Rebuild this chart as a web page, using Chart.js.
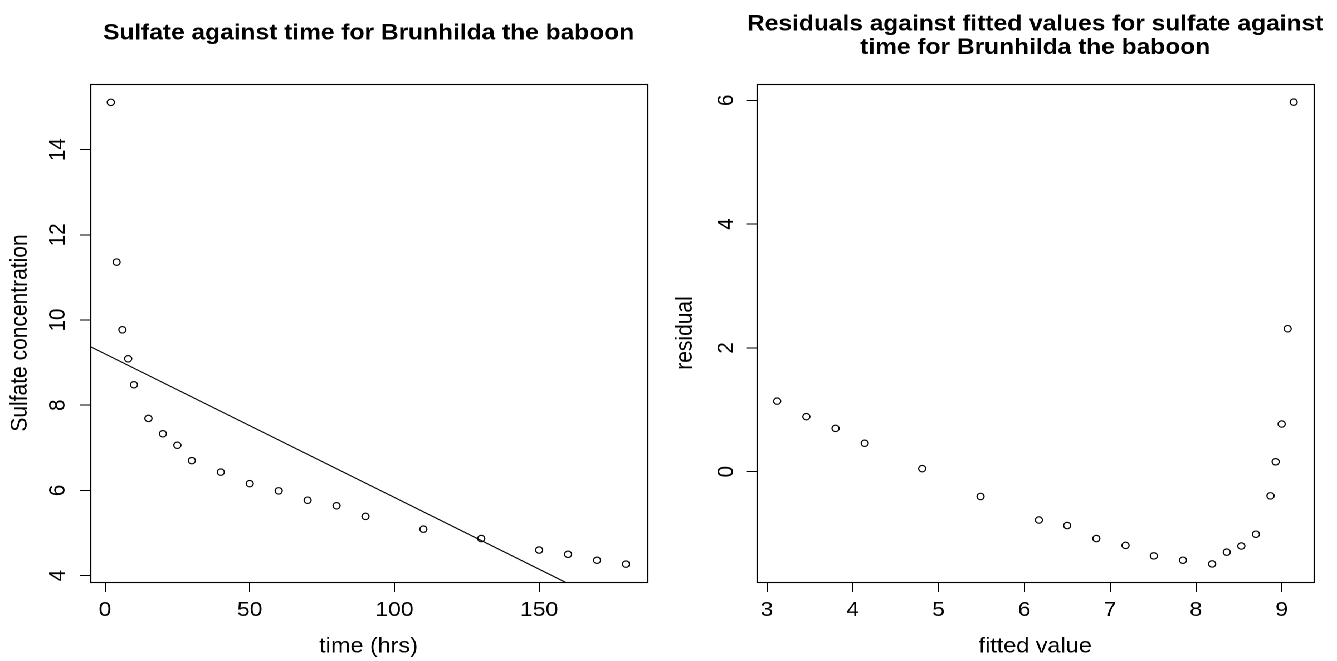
<!DOCTYPE html>
<html>
<head>
<meta charset="utf-8">
<script src="https://cdn.jsdelivr.net/npm/chart.js@4"></script>
<style>
    body { margin: 0; background: #fff; overflow: hidden; }
    /* the reference is a little wider than tall in its glyphs, so the
       whole figure is drawn 1200 wide and stretched to the window */
    #wrap {
        position: relative;
        width: 1200px;
        height: 661px;
        transform: scaleX(1.114167);
        transform-origin: 0 0;
    }
    #wrap canvas { position: absolute; top: 0; }
    #left { left: 0; }
    #right { left: 600px; }
</style>
</head>
<body>
<div id="wrap">
    <canvas id="left" width="600" height="661"></canvas>
    <canvas id="right" width="600" height="661"></canvas>
</div>
<script>
    // sulfate data for Brunhilda
    const timeHrs = [2, 4, 6, 8, 10, 15, 20, 25, 30, 40, 50, 60, 70, 80, 90, 110, 130, 150, 160, 170, 180];
    const sulfate = [15.11, 11.36, 9.77, 9.09, 8.48, 7.69, 7.33, 7.06, 6.70, 6.43, 6.16, 5.99, 5.77, 5.64, 5.39, 5.09, 4.87, 4.60, 4.50, 4.36, 4.27];

    // straight line fit shown on the left panel
    const fitIntercept = 9.205;
    const fitSlope = -0.0337;

    // residual plot
    const fittedValue = [9.14, 9.07, 9.00, 8.93, 8.87, 8.70, 8.53, 8.36, 8.19, 7.85, 7.51, 7.18, 6.84, 6.50, 6.17, 5.49, 4.81, 4.14, 3.80, 3.46, 3.12];
    const residual = [5.97, 2.31, 0.77, 0.16, -0.39, -1.01, -1.20, -1.30, -1.49, -1.43, -1.36, -1.19, -1.08, -0.87, -0.78, -0.40, 0.05, 0.46, 0.70, 0.89, 1.14];

    // tick labels
    const timeTicks = [0, 50, 100, 150];
    const sulfateTicks = [4, 6, 8, 10, 12, 14];
    const fittedTicks = [3, 4, 5, 6, 7, 8, 9];
    const residualTicks = [0, 2, 4, 6];

    const FONT = "'Liberation Sans', Arial, Helvetica, sans-serif";

    // box round the plot region and the bold main title, R style
    const framePlugin = {
        id: 'frame',
        afterDraw(chart, args, opts) {
            const { ctx, chartArea: a } = chart;
            ctx.save();
            ctx.strokeStyle = '#000';
            ctx.lineWidth = 1.1;
            const l = Math.round(a.left) + 0.5, t = Math.round(a.top) + 0.5;
            const r = Math.round(a.right) + 0.5, b = Math.round(a.bottom) + 0.5;
            ctx.strokeRect(l, t, r - l, b - t);
            ctx.fillStyle = '#000';
            ctx.font = 'bold 22px ' + FONT;
            ctx.textAlign = 'center';
            ctx.textBaseline = 'alphabetic';
            const cx = (a.left + a.right) / 2;
            opts.lines.forEach((line, i) => ctx.fillText(line, cx, opts.baselines[i]));
            ctx.restore();
        }
    };

    function fixedTicks(values) {
        return (scale) => { scale.ticks = values.map(v => ({ value: v })); };
    }

    function makeChart(id, cfg) {
        const ctx = document.getElementById(id).getContext('2d');
        return new Chart(ctx, {
            type: 'scatter',
            data: { datasets: cfg.datasets },
            options: {
                responsive: false,
                animation: false,
                devicePixelRatio: 2,
                layout: { padding: { top: 84, right: cfg.padRight, bottom: 0, left: 0 } },
                plugins: {
                    legend: { display: false },
                    tooltip: { enabled: false },
                    frame: { lines: cfg.title, baselines: cfg.titleY }
                },
                scales: {
                    x: {
                        type: 'linear',
                        min: cfg.xRange[0],
                        max: cfg.xRange[1],
                        afterBuildTicks: fixedTicks(cfg.xTicks),
                        afterFit: (s) => { s.height = 79; },
                        border: { display: false },
                        grid: { drawOnChartArea: false, tickLength: 10, color: '#000', lineWidth: 1 },
                        ticks: {
                            autoSkip: false, maxRotation: 0, padding: 6, color: '#000',
                            font: { family: FONT, size: 20.5 },
                            callback: (v) => String(v)
                        },
                        title: {
                            display: true, text: cfg.xTitle, color: '#000',
                            font: { family: FONT, size: 21 },
                            padding: { top: 0, bottom: 1.5 }
                        }
                    },
                    y: {
                        type: 'linear',
                        min: cfg.yRange[0],
                        max: cfg.yRange[1],
                        afterBuildTicks: fixedTicks(cfg.yTicks),
                        afterFit: (s) => { s.width = cfg.yWidth; },
                        border: { display: false },
                        grid: { drawOnChartArea: false, tickLength: 9, color: '#000', lineWidth: 1 },
                        ticks: {
                            autoSkip: false, minRotation: 90, maxRotation: 90,
                            crossAlign: 'center', padding: cfg.yTickPad, color: '#000',
                            font: { family: FONT, size: 20.5 },
                            callback: (v) => String(v)
                        },
                        title: {
                            display: true, text: cfg.yTitle, color: '#000',
                            font: { family: FONT, size: 21 },
                            padding: { top: cfg.yTitlePad, bottom: 0 }
                        }
                    }
                }
            },
            plugins: [framePlugin]
        });
    }

    const circles = {
        pointStyle: 'circle',
        pointRadius: 3.2,
        pointBorderWidth: 1.1,
        pointBorderColor: '#000',
        pointBackgroundColor: 'rgba(0,0,0,0)',
        showLine: false
    };

    const leftX = [-5.18, 187.3];
    makeChart('left', {
        title: ['Sulfate against time for Brunhilda the baboon'],
        titleY: [39.5],
        xTitle: 'time (hrs)',
        yTitle: 'Sulfate concentration',
        xRange: leftX,
        yRange: [3.85, 15.54],
        xTicks: timeTicks,
        yTicks: sulfateTicks,
        yWidth: 80.8,
        padRight: 19.2,
        yTickPad: 8.3,
        yTitlePad: 5.5,
        datasets: [
            Object.assign({
                data: timeHrs.map((t, i) => ({ x: t, y: sulfate[i] }))
            }, circles),
            {
                data: leftX.map(t => ({ x: t, y: fitIntercept + fitSlope * t })),
                showLine: true,
                pointRadius: 0,
                borderColor: '#000',
                borderWidth: 1.1,
                tension: 0,
                clip: 0
            }
        ]
    });

    makeChart('right', {
        title: ['Residuals against fitted values for sulfate against', 'time for Brunhilda the baboon'],
        titleY: [30.5, 54],
        xTitle: 'fitted value',
        yTitle: 'residual',
        xRange: [2.883, 9.371],
        yRange: [-1.782, 6.263],
        xTicks: fittedTicks,
        yTicks: residualTicks,
        yWidth: 79.3,
        padRight: 21.1,
        yTickPad: 12.3,
        yTitlePad: 2.5,
        datasets: [
            Object.assign({
                data: fittedValue.map((f, i) => ({ x: f, y: residual[i] }))
            }, circles)
        ]
    });
</script>
</body>
</html>
